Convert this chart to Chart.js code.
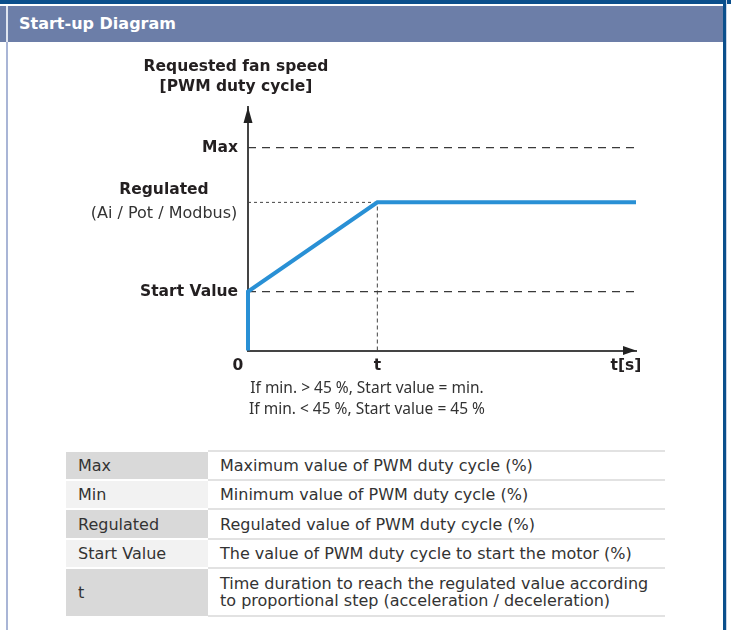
<!DOCTYPE html>
<html>
<head>
<meta charset="utf-8">
<title>Start-up Diagram</title>
<script src="https://cdn.jsdelivr.net/npm/chart.js@4.4.1/dist/chart.umd.min.js"></script>
<style>
body { margin: 0; width: 731px; height: 630px; background: #fff; position: relative; overflow: hidden; font-family: "DejaVu Sans", Verdana, sans-serif; }
.band { position: absolute; left: 0; top: 0; width: 731px; height: 4px; background: #0b4f8c; }
.header { position: absolute; left: 0; top: 6px; width: 723px; height: 36px; background: #6c7ea8; color: #fff; font-weight: bold; font-size: 16px; line-height: 35px; }
.header span { position: absolute; left: 19px; top: 0; }
.vline { position: absolute; left: 6px; width: 2px; }
.rborder { position: absolute; left: 723px; top: 0; width: 3px; height: 630px; background: #0b4f8c; }
.rlight { position: absolute; left: 726px; top: 0; width: 1px; height: 630px; background: #c9d3e6; }
#chartBox { position: absolute; left: 0; top: 42px; width: 722px; height: 398px; }
#notes { position: absolute; left: 217px; top: 377px; width: 300px; text-align: center; font: 15.5px "Noto Sans", sans-serif; color: #333; line-height: 21px; }
#legendTable { position: absolute; left: 66px; top: 450px; width: 599px; border-collapse: collapse; font-size: 16px; color: #333; }
#legendTable td { padding: 0 12px; vertical-align: middle; white-space: nowrap; }
#legendTable td.term { width: 118px; border-top: 2px solid #fff; }
#legendTable td.desc { border-top: 2px solid #e2e2e2; background: #fff; line-height: 17px; }
#legendTable tr:last-child td.desc { border-bottom: 2px solid #e2e2e2; }
</style>
</head>
<body>
<div class="band"></div>
<div class="header"><span>Start-up Diagram</span></div>
<div class="vline" style="top:6px;height:36px;background:#dfe4ef"></div>
<div class="vline" style="top:42px;height:588px;background:#a9b5d6"></div>
<div class="rborder"></div>
<div class="rlight"></div>

<div id="chartBox"><canvas id="startupChart"></canvas></div>
<div id="notes"></div>
<table id="legendTable"></table>

<script>
// time axis: 0, t, end of axis (t[s])
const timeTicks = [0, 1, 3];
const timeLabels = ['0', 't', 't[s]'];

// requested fan speed curve (PWM duty cycle, % of Max)
const speedTime = [0, 0, 1, 3];
const speedValue = [0, 29, 73, 73];

// named levels on the y axis
const levelNames = ['Max', 'Regulated', 'Start Value'];
const levelValues = [100, 73, 29];
const levelSub = '(Ai / Pot / Modbus)';
const yMax = 120;

const axisTitle = ['Requested fan speed', '[PWM duty cycle]'];
const notes = ['If min. > 45 %, Start value = min.', 'If min. < 45 %, Start value = 45 %'];

const tableTerms = ['Max', 'Min', 'Regulated', 'Start Value', 't'];
const tableDescriptions = [
    ['Maximum value of PWM duty cycle (%)'],
    ['Minimum value of PWM duty cycle (%)'],
    ['Regulated value of PWM duty cycle (%)'],
    ['The value of PWM duty cycle to start the motor (%)'],
    ['Time duration to reach the regulated value according', 'to proportional step (acceleration / deceleration)']
];
const rowHeights = [29, 29, 30, 29, 48];
const termColors = ['#d9d9d9', '#f2f2f2', '#d9d9d9', '#f2f2f2', '#d9d9d9'];

const axisColor = '#444';
const textColor = '#231f20';
const boldFont = 'bold 15.5px "DejaVu Sans"';
const normalFont = '16px "DejaVu Sans"';

// notes and table
document.getElementById('notes').innerHTML = notes.join('<br>');
let rows = '';
for (let i = 0; i < tableTerms.length; i++) {
    rows += '<tr style="height:' + rowHeights[i] + 'px"><td class="term" style="background:' + termColors[i] + '">' +
        tableTerms[i] + '</td><td class="desc">' + tableDescriptions[i].join('<br>') + '</td></tr>';
}
document.getElementById('legendTable').innerHTML = rows;

const tMax = timeTicks[timeTicks.length - 1];
const tStep = timeTicks[1];
const maxV = levelValues[0], regV = levelValues[1], startV = levelValues[2];

function pts(xs, ys) {
    return xs.map((v, i) => ({ x: v, y: ys[i] }));
}

const labelPlugin = {
    id: 'diagramLabels',
    afterDatasetsDraw(chart) {
        const { ctx, chartArea, scales } = chart;
        const x = scales.x, y = scales.y;
        const x0 = x.getPixelForValue(0);
        const yb = y.getPixelForValue(0);
        const xe = x.getPixelForValue(tMax);
        ctx.save();
        // arrow heads
        ctx.fillStyle = '#222';
        ctx.beginPath();
        ctx.moveTo(x0, chartArea.top);
        ctx.lineTo(x0 - 4.5, chartArea.top + 16);
        ctx.lineTo(x0 + 4.5, chartArea.top + 16);
        ctx.closePath();
        ctx.fill();
        ctx.beginPath();
        ctx.moveTo(xe, yb);
        ctx.lineTo(xe - 13, yb - 4.5);
        ctx.lineTo(xe - 13, yb + 4.5);
        ctx.closePath();
        ctx.fill();

        ctx.fillStyle = textColor;
        ctx.textBaseline = 'middle';
        // axis title
        ctx.font = boldFont;
        ctx.textAlign = 'center';
        ctx.fillText(axisTitle[0], x0 - 12, chartArea.top - 40);
        ctx.fillText(axisTitle[1], x0 - 12, chartArea.top - 20);
        // level labels
        ctx.textAlign = 'right';
        ctx.fillText(levelNames[0], x0 - 10, y.getPixelForValue(maxV));
        ctx.fillText(levelNames[2], x0 - 10, y.getPixelForValue(startV));
        ctx.textAlign = 'center';
        ctx.fillText(levelNames[1], x0 - 84, y.getPixelForValue(regV) - 12);
        ctx.font = normalFont;
        ctx.fillStyle = '#333';
        ctx.fillText(levelSub, x0 - 84, y.getPixelForValue(regV) + 11);
        // time labels
        ctx.font = boldFont;
        ctx.fillStyle = textColor;
        ctx.fillText(timeLabels[0], x.getPixelForValue(timeTicks[0]) - 10, yb + 15);
        ctx.fillText(timeLabels[1], x.getPixelForValue(timeTicks[1]), yb + 15);
        ctx.fillText(timeLabels[2], x.getPixelForValue(timeTicks[2]) - 10, yb + 15);
        ctx.restore();
    }
};

const dashed = { borderColor: '#3a3a3a', borderWidth: 1.3, borderDash: [8, 6], pointRadius: 0, order: 2 };
const dotted = { borderColor: '#444', borderWidth: 1, borderDash: [3, 3], pointRadius: 0, order: 2 };

new Chart(document.getElementById('startupChart'), {
    type: 'line',
    data: {
        datasets: [
            Object.assign({ data: pts([0, tMax], [maxV, maxV]) }, dashed),
            Object.assign({ data: pts([0, tMax], [startV, startV]) }, dashed),
            Object.assign({ data: pts([0, tStep], [regV, regV]) }, dotted),
            Object.assign({ data: pts([tStep, tStep], [0, regV]) }, dotted, { borderDash: [4, 3] }),
            {
                data: pts(speedTime, speedValue),
                borderColor: '#2990d5',
                borderWidth: 4,
                pointRadius: 0,
                tension: 0,
                clip: false,
                order: 0
            }
        ]
    },
    options: {
        responsive: true,
        maintainAspectRatio: false,
        animation: false,
        events: [],
        layout: { padding: { left: 248, right: 86, top: 65, bottom: 89.5 } },
        plugins: { legend: { display: false }, tooltip: { enabled: false } },
        scales: {
            x: {
                type: 'linear', min: 0, max: tMax,
                ticks: { display: false },
                grid: { display: true, drawOnChartArea: false, drawTicks: false },
                border: { display: true, color: axisColor, width: 2 },
                afterFit: (s) => { s.height = 0; }
            },
            y: {
                type: 'linear', min: 0, max: yMax,
                ticks: { display: false },
                grid: { display: true, drawOnChartArea: false, drawTicks: false },
                border: { display: true, color: axisColor, width: 2 },
                afterFit: (s) => { s.width = 0; }
            }
        }
    },
    plugins: [labelPlugin]
});
</script>
</body>
</html>
